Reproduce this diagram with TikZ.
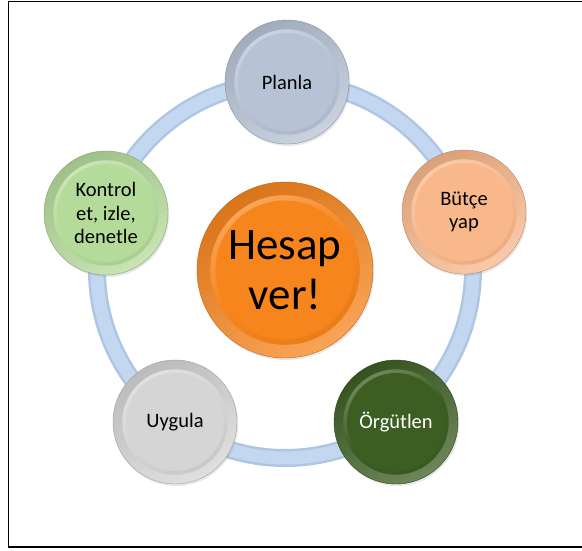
\documentclass[tikz,border=0pt]{standalone}
\usepackage{fontspec}
\setmainfont{Carlito}
\usetikzlibrary{shadows}
\definecolor{ringEdge}{HTML}{AEC6E4}
\definecolor{ringFill}{HTML}{C3D7F0}
\definecolor{planC}{HTML}{B7C3D5}
\definecolor{butC}{HTML}{F8B88B}
\definecolor{konC}{HTML}{B5DB9B}
\definecolor{hesC}{HTML}{F7851D}
\definecolor{uygC}{HTML}{D5D5D5}
\definecolor{orgC}{HTML}{3C5E23}
\tikzset{
  bead/.style 2 args={circle, minimum size=2*#2 pt, inner sep=0pt, align=center,
    draw=#1!75!black, line width=0.4pt,
    shading=axis, top color=#1!88!black, bottom color=#1!75!white, shading angle=30,
    drop shadow={shadow xshift=1.2pt, shadow yshift=-2pt, opacity=0.18},
    path picture={
      \shade[top color=#1!70!white, bottom color=#1!93!black, middle color=#1, shading angle=30]
        (path picture bounding box.center) circle (0.85*#2 pt);
      \fill[#1] (path picture bounding box.center) circle (0.79*#2 pt);
    }},
  small/.style={font=\fontsize{20.5}{23.5}\selectfont},
  big/.style={font=\fontsize{45}{50}\selectfont}
}
\begin{document}
\begin{tikzpicture}[x=1pt,y=1pt]
\useasboundingbox (0,0) rectangle (582,550);
\fill[white] (0,0) rectangle (582,550);
\draw[line width=1.6pt, black] (590,548.5) -- (8.5,548.5) -- (8.5,3) -- (590,3);
% ring
\node[circle, minimum size=376pt, inner sep=0pt, draw=ringEdge, line width=18pt] (ring) at (285,280) {};
\draw[ringFill, line width=13pt] (ring.center) circle (188pt);
% beads
\node[bead={hesC}{88}, big] (hesap) at (285,280) {Hesap\\ver!};
\node[bead={planC}{62}, small] (planla) at (287,468) {Planla};
\node[bead={butC}{62}, small] (butce) at (464,338) {Bütçe\\yap};
\node[bead={orgC}{62}, small, text=white] (orgut) at (396,128) {Örgütlen};
\node[bead={uygC}{62}, small] (uygula) at (175,128) {Uygula};
\node[bead={konC}{62}, small] (kontrol) at (106,337) {Kontrol\\et, izle,\\denetle};
\end{tikzpicture}
\end{document}
